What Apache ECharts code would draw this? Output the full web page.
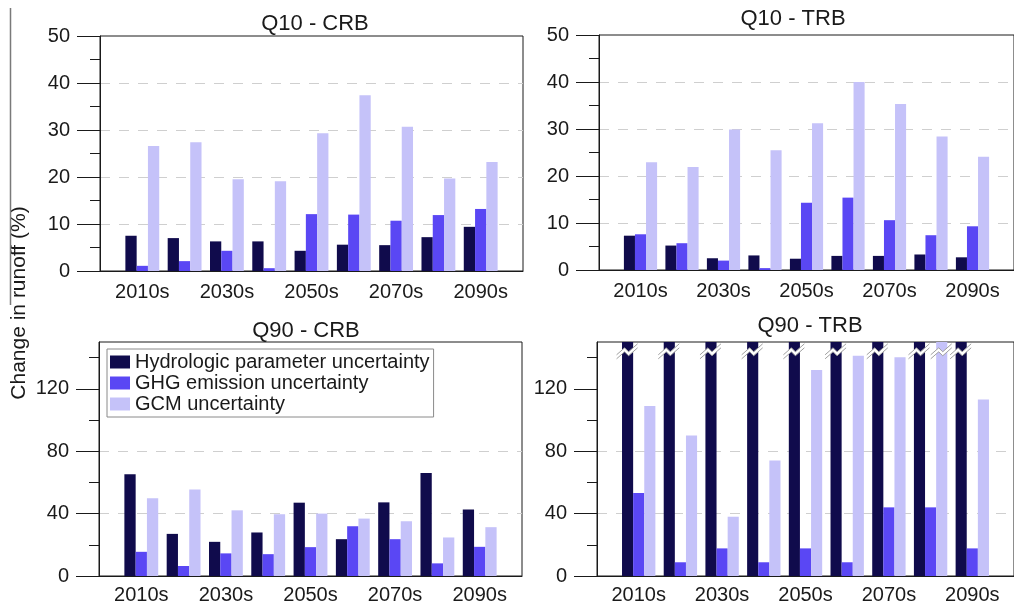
<!DOCTYPE html>
<html>
<head>
<meta charset="utf-8">
<script src="https://cdn.jsdelivr.net/npm/echarts@6/dist/echarts.min.js"></script>
<style>
  html, body { margin: 0; padding: 0; background: #fff; }
  #chart { width: 1014px; height: 607px; }
</style>
</head>
<body>
<div id="chart"></div>
<script>
// Decades on the x axis (labels shown on every second one)
const decades = ['2010s', '2020s', '2030s', '2040s', '2050s', '2060s', '2070s', '2080s', '2090s'];

// Legend / series names
const seriesNames = ['Hydrologic parameter uncertainty', 'GHG emission uncertainty', 'GCM uncertainty'];

// Q10 - CRB
const q10CrbHydro = [7.5, 7.0, 6.3, 6.3, 4.3, 5.6, 5.5, 7.2, 9.4];
const q10CrbGhg   = [1.1, 2.1, 4.3, 0.6, 12.1, 12.0, 10.7, 11.9, 13.2];
const q10CrbGcm   = [26.6, 27.4, 19.5, 19.1, 29.3, 37.4, 30.7, 19.7, 23.2];

// Q10 - TRB
const q10TrbHydro = [7.3, 5.2, 2.5, 3.1, 2.4, 3.0, 3.0, 3.3, 2.7];
const q10TrbGhg   = [7.6, 5.7, 2.0, 0.4, 14.3, 15.4, 10.6, 7.4, 9.3];
const q10TrbGcm   = [22.9, 21.9, 29.9, 25.5, 31.2, 40.0, 35.3, 28.4, 24.1];

// Q90 - CRB
const q90CrbHydro = [65.3, 27.0, 21.9, 27.9, 47.0, 23.6, 47.2, 66.0, 42.6];
const q90CrbGhg   = [15.5, 6.4, 14.5, 14.0, 18.5, 31.9, 23.6, 8.1, 18.7];
const q90CrbGcm   = [49.8, 55.5, 42.1, 39.6, 40.0, 36.8, 35.1, 24.7, 31.3];

// Q90 - TRB (values above the axis top are drawn cut, with a break mark)
const q90TrbHydro = [180, 180, 180, 180, 180, 180, 180, 180, 180];
const q90TrbGhg   = [53.2, 8.8, 17.7, 8.8, 17.7, 8.8, 44.0, 44.0, 17.7];
const q90TrbGcm   = [108.9, 90.1, 38.0, 74.1, 132.0, 141.2, 140.3, 160, 113.2];

// Y axis ticks
const q10Ticks = [0, 10, 20, 30, 40, 50];
const q90Ticks = [0, 40, 80, 120];
const q90MinorTicks = [20, 60, 100, 140];
const breakLevel = 145;

const FONT = '"Liberation Sans", Arial, Helvetica, sans-serif';
const INK = '#1a1a1a';
const colors = ['#100b4c', '#5a47f4', '#c5c2f9'];

const panels = [
  { title: 'Q10 - CRB', data: [q10CrbHydro, q10CrbGhg, q10CrbGcm], grid: { left: 100, top: 36, width: 423, height: 235 },
    yMax: 50, ticks: q10Ticks, titleAt: [315, 24], labelMargin: 11 },
  { title: 'Q10 - TRB', data: [q10TrbHydro, q10TrbGhg, q10TrbGcm], grid: { left: 599, top: 35, width: 423, height: 235 },
    yMax: 50, ticks: q10Ticks, titleAt: [793, 19], labelMargin: 11 },
  { title: 'Q90 - CRB', data: [q90CrbHydro, q90CrbGhg, q90CrbGcm], grid: { left: 99, top: 342, width: 423, height: 234 },
    yMax: 150, ticks: q90Ticks, minor: q90MinorTicks, titleAt: [306, 331], labelMargin: 9 },
  { title: 'Q90 - TRB', data: [q90TrbHydro, q90TrbGhg, q90TrbGcm], grid: { left: 597, top: 342, width: 423, height: 234 },
    yMax: 150, ticks: q90Ticks, minor: q90MinorTicks, titleAt: [810, 326], labelMargin: 9 }
];

// Padded category list: one empty slot at each end keeps half-slot margins
const xCats = [''].concat(decades, [' ']);
const pad = arr => ['-'].concat(arr, ['-']);

// Zig-zag break mark drawn across a bar that leaves the plot
function renderBreak(params, api) {
  const p = api.coord([api.value(0), api.value(1)]);
  const bw = api.size([1, 0])[0] * 0.8 / 3;
  const cx = p[0] + (api.value(2) - 1) * bw;
  const cy = p[1];
  const up = [[-11, 5], [-3, -2], [1, 2], [10, -6]].map(d => [cx + d[0], cy + d[1]]);
  const lo = up.map(q => [q[0], q[1] + 4]);
  return {
    type: 'group',
    children: [
      { type: 'polygon', shape: { points: up.concat(lo.slice().reverse()) }, style: { fill: '#fff' } },
      { type: 'polyline', shape: { points: up }, style: { stroke: '#a0a0a0', lineWidth: 1, fill: null } },
      { type: 'polyline', shape: { points: lo }, style: { stroke: '#a0a0a0', lineWidth: 1, fill: null } }
    ]
  };
}

const grids = [], xAxes = [], yAxes = [], series = [], graphics = [];

panels.forEach((pn, i) => {
  grids.push(Object.assign({ show: true, borderColor: INK, borderWidth: 1, backgroundColor: 'transparent' }, pn.grid));

  xAxes.push({
    type: 'category', gridIndex: i, data: xCats, boundaryGap: false,
    axisLine: { lineStyle: { color: INK, width: 1 } },
    axisTick: { show: false },
    axisLabel: {
      interval: idx => idx % 2 === 1, margin: pn.labelMargin,
      fontFamily: FONT, fontSize: 20, color: INK
    },
    splitLine: { show: false }
  });

  const yMain = yAxes.length;
  yAxes.push({
    type: 'value', gridIndex: i, min: 0, max: pn.yMax, interval: pn.yMax === 50 ? 10 : 40, position: 'left',
    axisLine: { show: true, lineStyle: { color: INK, width: 1 } },
    axisTick: { show: true, length: 23, customValues: pn.ticks, lineStyle: { color: INK, width: 1 } },
    axisLabel: { customValues: pn.ticks, margin: 30, fontFamily: FONT, fontSize: 20, color: INK },
    minorTick: pn.minor ? { show: false } : { show: true, splitNumber: 2, length: 10, lineStyle: { color: INK, width: 1 } },
    splitLine: { show: true, showMinLine: false, showMaxLine: false, lineStyle: { color: '#cfcfcf', type: [10, 9], width: 1 } }
  });
  if (pn.minor) {
    yAxes.push({
      type: 'value', gridIndex: i, min: 0, max: pn.yMax, interval: 20, position: 'left', offset: 0,
      axisLine: { show: false },
      axisTick: { show: true, length: 10, customValues: pn.minor, lineStyle: { color: INK, width: 1 } },
      axisLabel: { show: false },
      splitLine: { show: false }
    });
  }

  pn.data.forEach((vals, s) => {
    series.push({
      type: 'bar', name: seriesNames[s], xAxisIndex: i, yAxisIndex: yMain,
      data: pad(vals), barGap: '0%', barCategoryGap: '20%',
      itemStyle: { color: colors[s] }, clip: true, animation: false
    });
  });

  const breaks = [];
  pn.data.forEach((vals, s) => vals.forEach((v, k) => { if (v > pn.yMax) breaks.push([k + 1, breakLevel, s]); }));
  if (breaks.length) {
    series.push({
      type: 'custom', xAxisIndex: i, yAxisIndex: yMain, data: breaks,
      renderItem: renderBreak, z: 5, silent: true, animation: false, clip: false
    });
  }

  graphics.push({
    type: 'text', x: pn.titleAt[0], y: pn.titleAt[1],
    style: { text: pn.title, font: `22px ${FONT}`, fill: INK, align: 'center', verticalAlign: 'middle',
             textAlign: 'center', textVerticalAlign: 'middle' }
  });
});

// Shared y axis title and the rule beside it
graphics.push({
  type: 'text', x: 19, y: 303, rotation: Math.PI / 2,
  style: { text: 'Change in runoff (%)', font: `21px ${FONT}`, fill: INK, align: 'center', verticalAlign: 'middle',
           textAlign: 'center', textVerticalAlign: 'middle' }
});
graphics.push({
  type: 'line', shape: { x1: 10.5, y1: 8, x2: 10.5, y2: 305 }, style: { stroke: '#7a7a7a', lineWidth: 1.5 }
});

const chart = echarts.init(document.getElementById('chart'), null, { renderer: 'canvas' });
chart.setOption({
  animation: false,
  backgroundColor: '#fff',
  color: colors,
  grid: grids,
  xAxis: xAxes,
  yAxis: yAxes,
  legend: {
    data: seriesNames, orient: 'vertical', left: 107, top: 349,
    itemWidth: 20, itemHeight: 13, itemGap: 1, icon: 'rect',
    padding: [3, 4, 3, 3], borderColor: '#8a8a8a', borderWidth: 1, backgroundColor: '#fff',
    textStyle: { fontFamily: FONT, fontSize: 20, color: INK }, selectedMode: false
  },
  graphic: graphics,
  series: series
});
</script>
</body>
</html>
